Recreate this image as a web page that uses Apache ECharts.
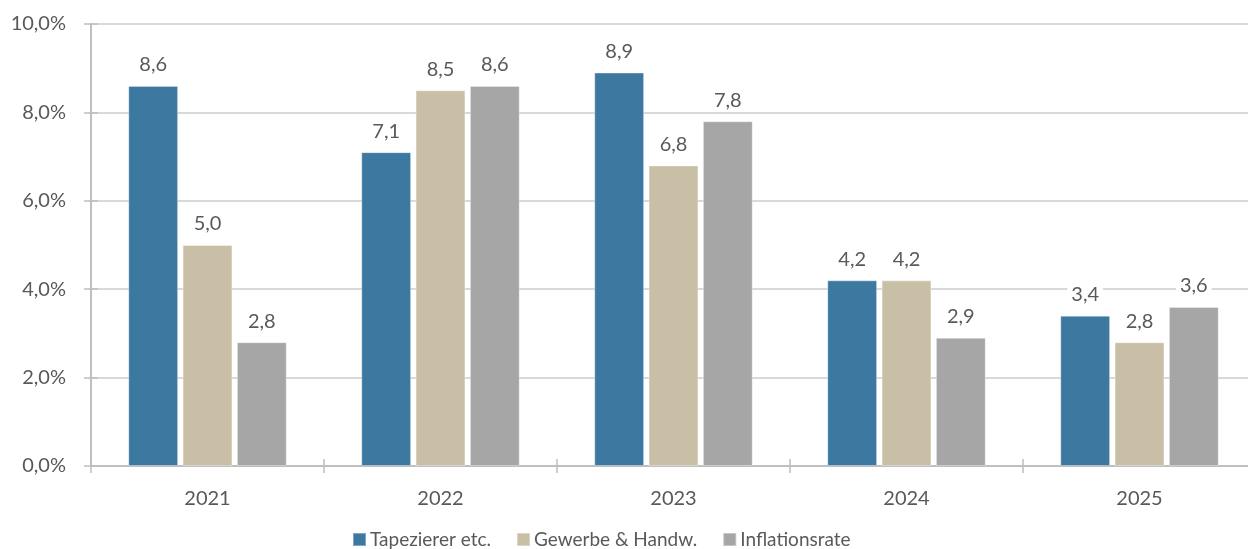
<!DOCTYPE html>
<html>
<head>
<meta charset="utf-8">
<script src="https://cdn.jsdelivr.net/npm/echarts@6/dist/echarts.min.js"></script>
<style>html,body{margin:0;padding:0;background:#fff;overflow:hidden;}#c{width:1248px;height:549px;}</style>
</head>
<body>
<div id="c"></div>
<script>
const categories = ['2021', '2022', '2023', '2024', '2025'];
const seriesNames = ['Tapezierer etc.', 'Gewerbe & Handw.', 'Inflationsrate'];
const tapezierer = [8.6, 7.1, 8.9, 4.2, 3.4];
const gewerbe = [5.0, 8.5, 6.8, 4.2, 2.8];
const inflation = [2.8, 8.6, 7.8, 2.9, 3.6];
const colors = ['#3C78A0', '#C9BFA7', '#A6A6A6'];

const FONT = 'Lato';
const TXT = '#595959';
const fmtNum = v => v.toFixed(1).replace('.', ',');

function makeSeries(name, data, color) {
  return {
    name: name, type: 'bar', data: data,
    xAxisIndex: 0, yAxisIndex: 0,
    barGap: '9%', barCategoryGap: '32%',
    itemStyle: { color: color, borderColor: 'rgba(255,255,255,0.35)', borderWidth: 1 },
    label: {
      show: true, position: 'top', distance: 10,
      formatter: p => fmtNum(p.value),
      color: TXT, fontFamily: FONT, fontSize: 20,
      backgroundColor: '#fff', padding: [2, 4, 1, 4]
    }
  };
}

const chart = echarts.init(document.getElementById('c'));
chart.setOption({
  animation: false,
  textStyle: { fontFamily: FONT },
  grid: { left: 91, width: 1165, top: 24, bottom: 83, containLabel: false, outerBoundsMode: 'none' },
  legend: {
    data: seriesNames, top: 525, left: 347,
    itemWidth: 13, itemHeight: 13, itemGap: 25, icon: 'rect',
    textStyle: { color: TXT, fontFamily: FONT, fontSize: 19, padding: [0, 0, 0, -1] }
  },
  xAxis: [{
    type: 'category', data: categories,
    axisLine: { lineStyle: { color: '#BFBFBF', width: 2 } },
    axisTick: { show: true, length: 7, lineStyle: { color: '#BFBFBF', width: 1.5 } },
    axisLabel: { color: TXT, fontFamily: FONT, fontSize: 20, margin: 23 }
  }, {
    type: 'category', data: categories, position: 'bottom',
    axisLine: { show: false },
    axisTick: { show: true, inside: true, length: 7, lineStyle: { color: '#BFBFBF', width: 1.5 } },
    axisLabel: { show: false }
  }],
  yAxis: [{
    type: 'value', min: 0, max: 10, interval: 2,
    axisLine: { show: true, lineStyle: { color: '#BFBFBF', width: 2 } },
    axisTick: { show: true, length: 7, lineStyle: { color: '#BFBFBF', width: 1.5 } },
    splitLine: { lineStyle: { color: '#D9D9D9', width: 2 } },
    axisLabel: { color: TXT, fontFamily: FONT, fontSize: 20, margin: 25, formatter: v => fmtNum(v) + '%' }
  }, {
    type: 'value', min: 0, max: 10, interval: 2, position: 'left',
    axisLine: { show: false },
    axisTick: { show: true, inside: true, length: 7, lineStyle: { color: '#BFBFBF', width: 1.5 } },
    splitLine: { show: false },
    axisLabel: { show: false }
  }],
  series: [
    makeSeries(seriesNames[0], tapezierer, colors[0]),
    makeSeries(seriesNames[1], gewerbe, colors[1]),
    makeSeries(seriesNames[2], inflation, colors[2])
  ]
});
</script>
</body>
</html>
